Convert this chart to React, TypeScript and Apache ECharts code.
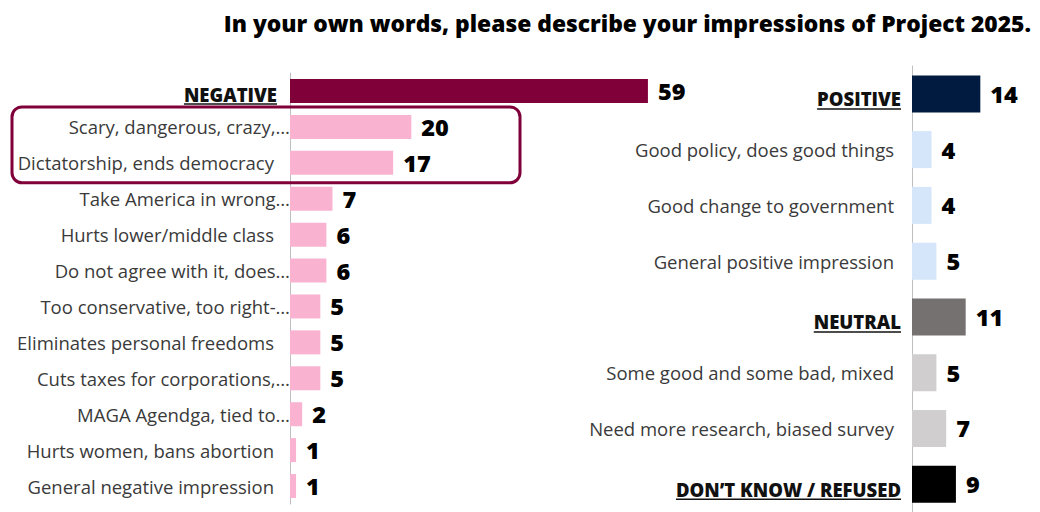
import React, { useEffect, useRef } from "react";
import * as echarts from "echarts";

const title = "In your own words, please describe your impressions of Project 2025.";

const leftCategories = [
  "NEGATIVE",
  "Scary, dangerous, crazy,…",
  "Dictatorship, ends democracy",
  "Take America in wrong…",
  "Hurts lower/middle class",
  "Do not agree with it, does…",
  "Too conservative, too right-…",
  "Eliminates personal freedoms",
  "Cuts taxes for corporations,…",
  "MAGA Agendga, tied to…",
  "Hurts women, bans abortion",
  "General negative impression",
];
const leftValues = [59, 20, 17, 7, 6, 6, 5, 5, 5, 2, 1, 1];

const rightCategories = [
  "POSITIVE",
  "Good policy, does good things",
  "Good change to government",
  "General positive impression",
  "NEUTRAL",
  "Some good and some bad, mixed",
  "Need more research, biased survey",
  "DON’T KNOW / REFUSED",
];
const rightValues = [14, 4, 4, 5, 11, 5, 7, 9];

const headers = ["NEGATIVE", "POSITIVE", "NEUTRAL", "DON’T KNOW / REFUSED"];

const leftColors = ["#80003A", "#F9B3D1"];
const rightColors = ["#011A3F", "#D5E6FA", "#D5E6FA", "#D5E6FA", "#767171", "#D0CECE", "#D0CECE", "#000000"];

const FONT = "'Open Sans', Lato, sans-serif";
const HEAD_SIZE = 18.5;
const LABEL_SIZE = 18.5;

function labelFormatter(v: string) {
  if (headers.includes(v)) return `{h|${v}}`;
  if (v.endsWith("…")) return `{t|${v}}`;
  return `{n|${v}}`;
}

export default function App() {
  const ref = useRef<HTMLDivElement>(null);
  useEffect(() => {
    const chart = echarts.init(ref.current!, null, { renderer: "svg" });
    const richLeft = {
      h: { fontFamily: FONT, fontWeight: 800, fontSize: HEAD_SIZE, color: "#111", padding: [8, 13, 0, 0] },
      n: { fontFamily: FONT, fontSize: LABEL_SIZE, color: "#3a3a3a", padding: [0, 16, 0, 0] },
      t: { fontFamily: FONT, fontSize: LABEL_SIZE, color: "#3a3a3a", padding: [0, 0, 0, 0] },
    };
    const richRight = {
      h: { fontFamily: FONT, fontWeight: 800, fontSize: HEAD_SIZE, color: "#111", padding: [10, 11, 0, 0] },
      n: { fontFamily: FONT, fontSize: LABEL_SIZE, color: "#3a3a3a", padding: [0, 18, 0, 0] },
      t: { fontFamily: FONT, fontSize: LABEL_SIZE, color: "#3a3a3a", padding: [0, 0, 0, 0] },
    };
    const valueLabel = {
      show: true,
      position: "right",
      distance: 10,
      fontFamily: FONT,
      fontWeight: 800,
      fontSize: 23.5,
      color: "#000",
    };
    const option: any = {
      animation: false,
      title: {
        text: title,
        right: 4,
        top: 7,
        textStyle: { fontFamily: FONT, fontWeight: 800, fontSize: 22.8, color: "#000" },
      },
      grid: [
        { left: 290, top: 73, width: 364, height: 431 },
        { left: 912, top: 66, width: 122, height: 450 },
      ],
      xAxis: [
        { type: "value", gridIndex: 0, min: 0, max: 60, show: false },
        { type: "value", gridIndex: 1, min: 0, max: 25, show: false },
      ],
      yAxis: [
        {
          type: "category",
          gridIndex: 0,
          inverse: true,
          data: leftCategories,
          axisLine: { lineStyle: { color: "#BFBFBF", width: 1 } },
          axisTick: { length: 5, lineStyle: { color: "#BFBFBF" } },
          axisLabel: { margin: 0, formatter: labelFormatter, rich: richLeft },
        },
        {
          type: "category",
          gridIndex: 1,
          inverse: true,
          data: rightCategories,
          axisLine: { lineStyle: { color: "#BFBFBF", width: 1 } },
          axisTick: { length: 5, lineStyle: { color: "#BFBFBF" } },
          axisLabel: { margin: 0, formatter: labelFormatter, rich: richRight },
        },
      ],
      series: [
        {
          type: "bar",
          xAxisIndex: 0,
          yAxisIndex: 0,
          barWidth: 24,
          label: valueLabel,
          data: leftValues.map((v, i) => ({
            value: v,
            itemStyle: { color: i === 0 ? leftColors[0] : leftColors[1] },
          })),
        },
        {
          type: "bar",
          xAxisIndex: 1,
          yAxisIndex: 1,
          barWidth: 37,
          label: valueLabel,
          data: rightValues.map((v, i) => ({ value: v, itemStyle: { color: rightColors[i] } })),
        },
      ],
    };
    chart.setOption(option);

    // underlines for header labels + highlight box
    const ctx = document.createElement("canvas").getContext("2d")!;
    ctx.font = `800 ${HEAD_SIZE}px ${FONT}`;
    const graphics: any[] = [];
    const addUnderline = (name: string, axisIdx: number, rightX: number, dy: number) => {
      const y = chart.convertToPixel({ yAxisIndex: axisIdx }, name) as number;
      const w = ctx.measureText(name).width;
      graphics.push({
        type: "line",
        shape: { x1: rightX - w, y1: y + dy, x2: rightX, y2: y + dy },
        style: { stroke: "#111", lineWidth: 1.5 },
      });
    };
    addUnderline("NEGATIVE", 0, 290 - 13, 13);
    addUnderline("POSITIVE", 1, 912 - 11, 15);
    addUnderline("NEUTRAL", 1, 912 - 11, 15);
    addUnderline("DON’T KNOW / REFUSED", 1, 912 - 11, 15);
    const y1 = chart.convertToPixel({ yAxisIndex: 0 }, leftCategories[1]) as number;
    const y2 = chart.convertToPixel({ yAxisIndex: 0 }, leftCategories[2]) as number;
    graphics.push({
      type: "rect",
      shape: { x: 12, y: y1 - 20, width: 508, height: y2 - y1 + 40, r: 10 },
      style: { fill: "none", stroke: "#80003A", lineWidth: 3 },
      z: 10,
    });
    chart.setOption({ graphic: graphics });

    return () => chart.dispose();
  }, []);
  return <div ref={ref} style={{ width: 1040, height: 512, position: "absolute", left: 0, top: 0 }} />;
}
